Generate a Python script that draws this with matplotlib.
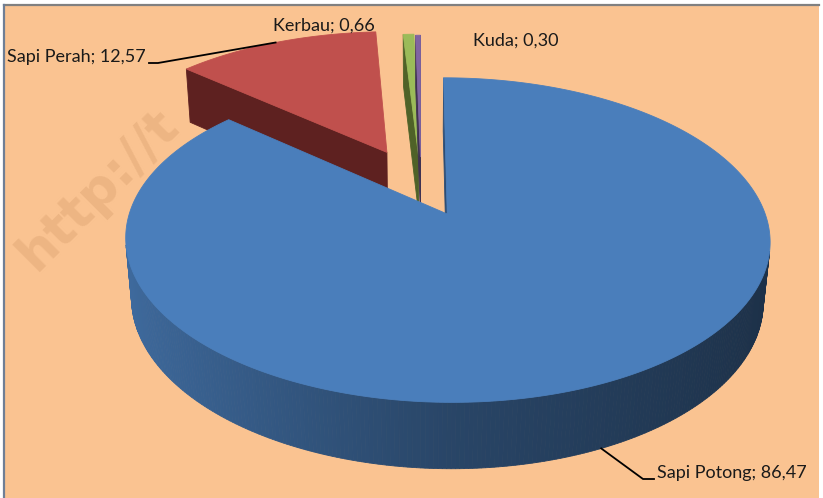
import numpy as np
import matplotlib
matplotlib.use("Agg")
import matplotlib.pyplot as plt
from matplotlib.patches import Polygon, Rectangle
from matplotlib.lines import Line2D

# ---- data ----
categories = ["Sapi Potong", "Sapi Perah", "Kerbau", "Kuda"]
values = [86.47, 12.57, 0.66, 0.30]
value_labels = ["86,47", "12,57", "0,66", "0,30"]
top_colors = ["#4A7EBB", "#C0504D", "#9BBB59", "#8064A2"]
face_colors = ["#2C4D75", "#5E2120", "#4F6228", "#3F3151"]
explode = [0.2, 0.26, 0.21, 0.2]

W, H = 823, 498
fig = plt.figure(figsize=(W / 100, H / 100), dpi=100)
fig.patch.set_facecolor("white")
ax = fig.add_axes([0, 0, 1, 1])
ax.set_xlim(0, W)
ax.set_ylim(H, 0)
ax.axis("off")

# frame / background
ax.add_patch(Rectangle((4, 5), 815, 500, facecolor="#FAC391", edgecolor="none", zorder=0))
ax.add_line(Line2D([4, 819], [5, 5], color="#808080", lw=1.6, zorder=0.2))
ax.add_line(Line2D([4, 4], [5, 498], color="#6F7F96", lw=1.6, zorder=0.2))

# watermark (under the pie)
ax.text(36, 272, "http://t", rotation=45, rotation_mode="anchor", ha="left", va="baseline",
        fontsize=37, fontweight="bold", color="#EDB583", family="DejaVu Sans", zorder=0.5)

# ---- 3D projection ----
F = 1730.0
DIST = 5.6
S = 0.483
C = 0.875
THICK = 0.22
CX, CY = 421.0, 186.0
cam = np.array([0.0, -DIST * C, DIST * S])


def proj(X, Y, Z):
    X = np.asarray(X, float)
    Y = np.asarray(Y, float)
    Z = np.asarray(Z, float)
    den = DIST + Y * C - Z * S
    u = F * X / den
    w = F * (Y * S + Z * C) / den
    return CX + u, CY - w


def depth(X, Y, Z):
    return float(np.mean(DIST + np.asarray(Y) * C - np.asarray(Z) * S))


def shade(hexcol, k):
    rgb = np.array(matplotlib.colors.to_rgb(hexcol))
    return tuple(np.clip(rgb * k, 0, 1))


total = float(sum(values))
fr = np.array(values) / total
starts = np.concatenate([[0], np.cumsum(fr)[:-1]]) * 360.0
ends = np.cumsum(fr) * 360.0

slices = []
for i in range(len(values)):
    t0, t1 = starts[i], ends[i]
    mid = np.radians((t0 + t1) / 2)
    ox, oy = explode[i] * np.sin(mid), explode[i] * np.cos(mid)
    n = max(3, int((t1 - t0) * 1.5))
    th = np.radians(np.linspace(t0, t1, n))
    ax_ = ox + np.sin(th)
    ay_ = oy + np.cos(th)
    faces = []
    # outer wall strips
    for k in range(n - 1):
        tm = (th[k] + th[k + 1]) / 2
        nrm = np.array([np.sin(tm), np.cos(tm), 0.0])
        P = np.array([ox + np.sin(tm), oy + np.cos(tm), -THICK / 2])
        if np.dot(cam - P, nrm) <= 0:
            continue
        xs = [ax_[k], ax_[k + 1], ax_[k + 1], ax_[k]]
        ys = [ay_[k], ay_[k + 1], ay_[k + 1], ay_[k]]
        zs = [0, 0, -THICK, -THICK]
        sn = np.sin(tm)
        kf = 0.55 - 0.30 * sn if sn < 0 else 0.55 - 0.17 * sn
        col = shade(top_colors[i], kf)
        faces.append((xs, ys, zs, col))
    # radial faces
    for tt, sgn in ((t0, -1), (t1, 1)):
        tr = np.radians(tt)
        nang = tr + sgn * np.pi / 2
        nrm = np.array([np.sin(nang), np.cos(nang), 0.0])
        P = np.array([ox + 0.5 * np.sin(tr), oy + 0.5 * np.cos(tr), -THICK / 2])
        if np.dot(cam - P, nrm) <= 0:
            continue
        xs = [ox, ox + np.sin(tr), ox + np.sin(tr), ox]
        ys = [oy, oy + np.cos(tr), oy + np.cos(tr), oy]
        zs = [0, 0, -THICK, -THICK]
        faces.append((xs, ys, zs, face_colors[i]))
    top = ([ox] + list(ax_), [oy] + list(ay_), [0] * (n + 1), top_colors[i])
    slices.append((depth([ox], [oy], [0]), faces, top, (ox, oy, mid)))

order = sorted(range(len(slices)), key=lambda j: -slices[j][0])
z = 2.0
for j in order:
    _, faces, top, _ = slices[j]
    faces = sorted(faces, key=lambda f: -depth(f[0], f[1], f[2]))
    for xs, ys, zs, col in faces + [top]:
        px, py = proj(xs, ys, zs)
        ax.add_patch(Polygon(np.column_stack([px, py]), closed=True, facecolor=col,
                             edgecolor=col, lw=0.6, zorder=z))
        z += 0.001

# ---- labels ----
font = dict(family=["Lato", "DejaVu Sans"], fontsize=13, color="#1a1a1a", zorder=10)
lab = [f"{c}; {v}" for c, v in zip(categories, value_labels)]
ax.text(657, 478, lab[0], ha="left", va="baseline", **font)
ax.text(146, 62, lab[1], ha="right", va="baseline", **font)
ax.text(273, 31, lab[2], ha="left", va="baseline", **font)
ax.text(473, 46, lab[3], ha="left", va="baseline", **font)

# leader lines
ox, oy, mid = slices[1][3]
rx, ry = proj(ox + np.sin(mid), oy + np.cos(mid), 0)
ax.add_line(Line2D([149, 158, float(rx)], [63, 63, float(ry)], color="black", lw=1.3, zorder=10))
ox, oy, mid = slices[0][3]
bx, by = proj(ox + np.sin(mid), oy + np.cos(mid), -THICK)
ax.add_line(Line2D([float(bx), 643, 654], [float(by), 479, 479], color="black", lw=1.3, zorder=10))

fig.savefig("out.png", dpi=100, facecolor=fig.get_facecolor())
